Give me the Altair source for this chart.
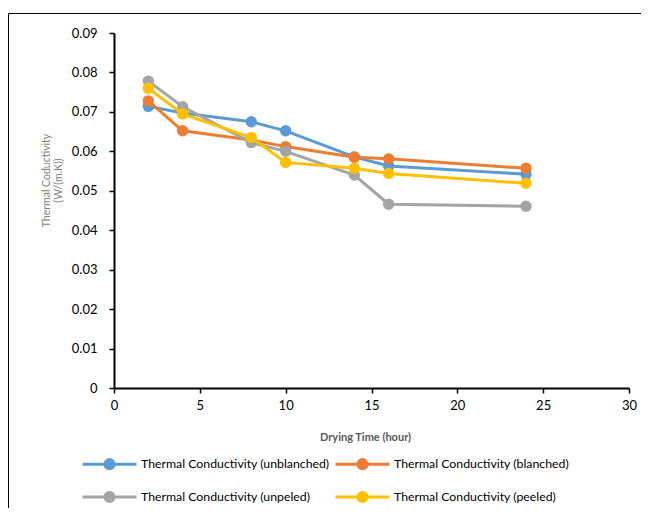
import altair as alt
import pandas as pd

hours = [2, 4, 8, 10, 14, 16, 24]
series_names = [
    "Thermal Conductivity (unblanched)",
    "Thermal Conductivity (blanched)",
    "Thermal Conductivity (unpeled)",
    "Thermal Conductivity (peeled)",
]
unblanched = [0.0714, 0.0697, 0.0675, 0.0652, 0.0586, 0.0563, 0.0542]
blanched = [0.0728, 0.0652, 0.0629, 0.0612, 0.0585, 0.0581, 0.0557]
unpeled = [0.0778, 0.0713, 0.0622, 0.0600, 0.0540, 0.0466, 0.0461]
peeled = [0.0760, 0.0695, 0.0635, 0.0572, 0.0557, 0.0544, 0.0519]
colors = ["#5B9BD5", "#ED7D31", "#A5A5A5", "#FFC000"]

x_ticks = [0, 5, 10, 15, 20, 25, 30]
y_ticks = [0, 0.01, 0.02, 0.03, 0.04, 0.05, 0.06, 0.07, 0.08, 0.09]

rows = []
for name, vals in zip(series_names, [unblanched, blanched, unpeled, peeled]):
    for h, v in zip(hours, vals):
        rows.append({"hour": h, "k": v, "series": name})
df = pd.DataFrame(rows)

FONT = "Lato"

X = alt.X(
    "hour:Q",
    scale=alt.Scale(domain=[0, 30], nice=False),
    axis=alt.Axis(
        values=x_ticks, title="Drying Time (hour)", grid=False,
        titleX=251, titleY=49, titleBaseline="middle", titleAnchor="middle",
        titleFontWeight="bold", titleFontSize=11, titleColor="#595959",
        labelFontSize=13, labelPadding=6, labelFlush=False,
    ),
)
Y = alt.Y(
    "k:Q",
    scale=alt.Scale(domain=[0, 0.09], nice=False),
    axis=alt.Axis(
        values=y_ticks, grid=False,
        title=["Thermal Coductivity", "(W/(m.K))"],
        titleX=-73, titleY=147, titleAngle=-90, titleBaseline="top",
        titleAlign="center", titleFontSize=10.5, titleFontWeight="normal",
        titleColor="#7F7F7F", titleLineHeight=12,
        labelExpr="datum.value == 0 ? '0' : format(datum.value, '.2f')",
        labelFontSize=13, labelPadding=12, labelFlush=False,
    ),
)
color = alt.Color(
    "series:N",
    scale=alt.Scale(domain=series_names, range=colors),
    legend=alt.Legend(
        title=None, orient="none", legendX=-19.5, legendY=416, columns=2,
        direction="horizontal",
        symbolType="M-2,0L2,0M0.34,0A0.34,0.34,0,1,1,-0.34,0A0.34,0.34,0,1,1,0.34,0",
        symbolSize=729, symbolStrokeWidth=3, symbolOffset=0,
        labelOffset=16.5, labelFontSize=12.3, labelColor="#000000",
        rowPadding=7, columnPadding=0, labelLimit=400, padding=0,
    ),
)

layers = []
for name in series_names:
    base = alt.Chart(df).transform_filter(alt.datum.series == name)
    layers.append(base.mark_line(strokeWidth=3).encode(x=X, y=Y, color=color))
    layers.append(base.mark_point(filled=True, size=130, opacity=1).encode(x=X, y=Y, color=color))

frame_data = alt.Data(values=[{"a": 1}])
frame_left = alt.Chart(frame_data).mark_rule(color="#000000", strokeWidth=1).encode(
    x=alt.value(-105.5), y=alt.value(-19.5), y2=alt.value(700))
frame_top = alt.Chart(frame_data).mark_rule(color="#000000", strokeWidth=1).encode(
    y=alt.value(-19.5), x=alt.value(-105.5), x2=alt.value(800))

chart = alt.layer(frame_left, frame_top, *layers).properties(
    width=515, height=355,
    autosize=alt.AutoSizeParams(type="none"),
    padding={"left": 106, "top": 25, "right": 12, "bottom": 120},
).configure_view(stroke=None).configure_axis(
    domainColor="#000000", domainWidth=2, tickColor="#000000", tickWidth=1.5,
    tickSize=5, labelColor="#000000", labelFont=FONT, titleFont=FONT,
).configure_legend(labelFont=FONT)

chart.save("out.html", embed_options={"renderer": "svg", "actions": False})
